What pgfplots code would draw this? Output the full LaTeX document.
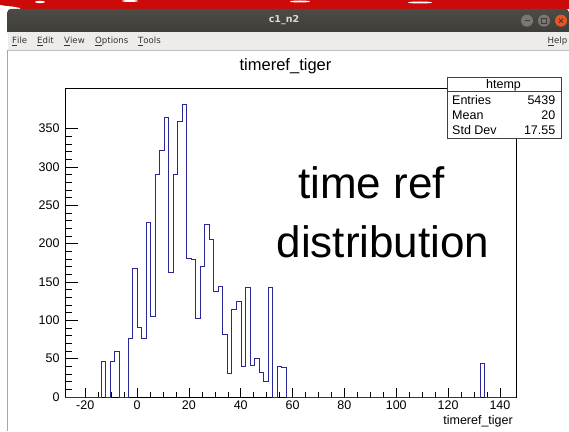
\documentclass[border=0pt]{standalone}
\usepackage{fontspec}
\setmainfont{Liberation Sans}
\newfontfamily\uifont{DejaVu Sans}
\usepackage{pgfplots}
\pgfplotsset{compat=1.18}
\definecolor{histblue}{RGB}{40,40,150}
\definecolor{tbar}{RGB}{62,61,57}
\definecolor{tbartop}{RGB}{76,75,70}
\definecolor{menubg}{RGB}{237,236,235}
\definecolor{desk}{RGB}{205,10,10}
\definecolor{btngray}{RGB}{120,119,114}
\definecolor{btnorange}{RGB}{233,84,32}
\begin{document}
\begin{tikzpicture}[x=1pt,y=1pt]
\path[use as bounding box] (0,0) rectangle (569,431);
\fill[white] (0,0) rectangle (569,431);
% desktop red strip
\fill[desk] (0,422) rectangle (569,431);
\fill[white] (0,422) -- (0,426) -- (6,425) -- (12,424.5) -- (20,423) -- (20,422) -- cycle;
\fill[white] (40,429) ellipse (5 and 1.2);
\fill[white] (130,430) ellipse (8 and 1);
\fill[white] (300,429.5) ellipse (10 and 1);
\fill[white] (420,428.5) ellipse (12 and 1);
% title bar
\shade[top color=tbartop,bottom color=tbar] (7.5,398.5) -- (7.5,419) arc (180:90:3) -- (566,422) arc (90:0:3) -- (569,398.5) -- cycle;
\node[text=white!86!black,font=\uifont\bfseries\fontsize{9.5}{11}\selectfont] at (284,410.5) {c1\_n2};
\fill[btngray] (527,410.3) circle (6);
\fill[btngray] (544,410.3) circle (6);
\fill[btnorange] (561,410.3) circle (6);
\draw[tbar,line width=0.9pt] (524.5,410.3) -- (529.5,410.3);
\draw[tbar,line width=0.7pt] (541.5,408) rectangle (546.5,412.6);
\draw[tbar,line width=0.9pt] (559,408.3) -- (563,412.3) (559,412.3) -- (563,408.3);
% menu bar
\fill[menubg] (7.5,381) rectangle (569,398.5);
\draw[black!25] (7.5,380.5) -- (569,380.5);
\begin{scope}[every node/.style={anchor=base west,inner sep=0pt,font=\uifont\fontsize{8.6}{10}\selectfont,text=black!80}]
\node at (12,387) {\underline{F}ile};
\node at (37,387) {\underline{E}dit};
\node at (64,387) {\underline{V}iew};
\node at (95,387) {\underline{O}ptions};
\node at (138,387) {\underline{T}ools};
\node[anchor=base east] at (567.5,387) {\underline{H}elp};
\end{scope}
% window left border
\draw[black!35,line width=0.8pt] (7.8,0) -- (7.8,380.5);
% title
\node[font=\fontsize{16.5}{18}\selectfont,anchor=base] at (285.5,360) {timeref\_tiger};
\begin{axis}[
  at={(65pt,34pt)}, anchor=south west,
  width=451pt, height=309pt, scale only axis,
  xmin=-27.8, xmax=146.2, ymin=0, ymax=403,
  axis line style={black, line width=0.6pt},
  xtick={-20,0,20,40,60,80,100,120,140},
  ytick={0,50,100,150,200,250,300,350},
  minor x tick num=3, minor y tick num=4,
  tick align=inside,
  xtick pos=bottom, ytick pos=left,
  xtick style={black,line width=0.5pt,/pgfplots/major tick length=9pt,/pgfplots/minor tick length=4.6pt},
  ytick style={black,line width=0.5pt,/pgfplots/major tick length=13pt,/pgfplots/minor tick length=6.5pt},
  tick label style={font=\fontsize{12.5}{14}\selectfont},
  /pgf/number format/assume math mode=true,
  xticklabel style={yshift=-0.5pt},
  yticklabel style={xshift=-2pt},
  clip=false,
]
\addplot[const plot, histblue, line width=0.75pt] coordinates {
(-27.80,0) (-13.88,47) (-12.14,0) (-10.40,47) (-8.66,60) (-6.92,0)
(-3.44,77) (-1.70,168) (0.04,91) (1.78,77) (3.52,228) (5.26,105)
(7.00,290) (8.74,322) (10.48,365) (12.22,163) (13.96,290) (15.70,360)
(17.44,382) (19.18,181) (20.92,180) (22.66,103) (24.40,171) (26.14,225)
(27.88,205) (29.62,138) (31.36,144) (33.10,82) (34.84,31) (36.58,114.5)
(38.32,124.5) (40.06,40.5) (41.80,143) (43.54,41) (45.28,51) (47.02,32)
(48.76,20) (50.50,143) (52.24,0) (53.98,40.5) (55.72,39) (57.46,0)
(132.28,44) (134.02,0) (146.2,0)
};
\node[anchor=base east,inner sep=0pt,font=\fontsize{12.5}{14}\selectfont] at (rel axis cs:1,0) [xshift=-3pt,yshift=-27pt] {timeref\_tiger};
\end{axis}
% big annotation
\node[font=\fontsize{44}{50}\selectfont,anchor=base] at (371.5,232) {time ref};
\node[font=\fontsize{44}{50}\selectfont,anchor=base] at (383,174) {distribution};
% stats box
\fill[white] (447,293) rectangle (561,354);
\draw[black!75,line width=0.6pt] (447,293) rectangle (561,354);
\draw[black!75,line width=0.6pt] (447,339.5) -- (561,339.5);
\begin{scope}[every node/.style={inner sep=0pt,font=\fontsize{12.5}{14}\selectfont}]
\node[anchor=base] at (503.5,342.5) {htemp};
\node[anchor=base west] at (452,326.5) {Entries};
\node[anchor=base east] at (555.5,326.5) {5439};
\node[anchor=base west] at (452,311.5) {Mean};
\node[anchor=base east] at (555.5,311.5) {20};
\node[anchor=base west] at (452,296.5) {Std Dev};
\node[anchor=base east] at (555.5,296.5) {17.55};
\end{scope}
\end{tikzpicture}
\end{document}
